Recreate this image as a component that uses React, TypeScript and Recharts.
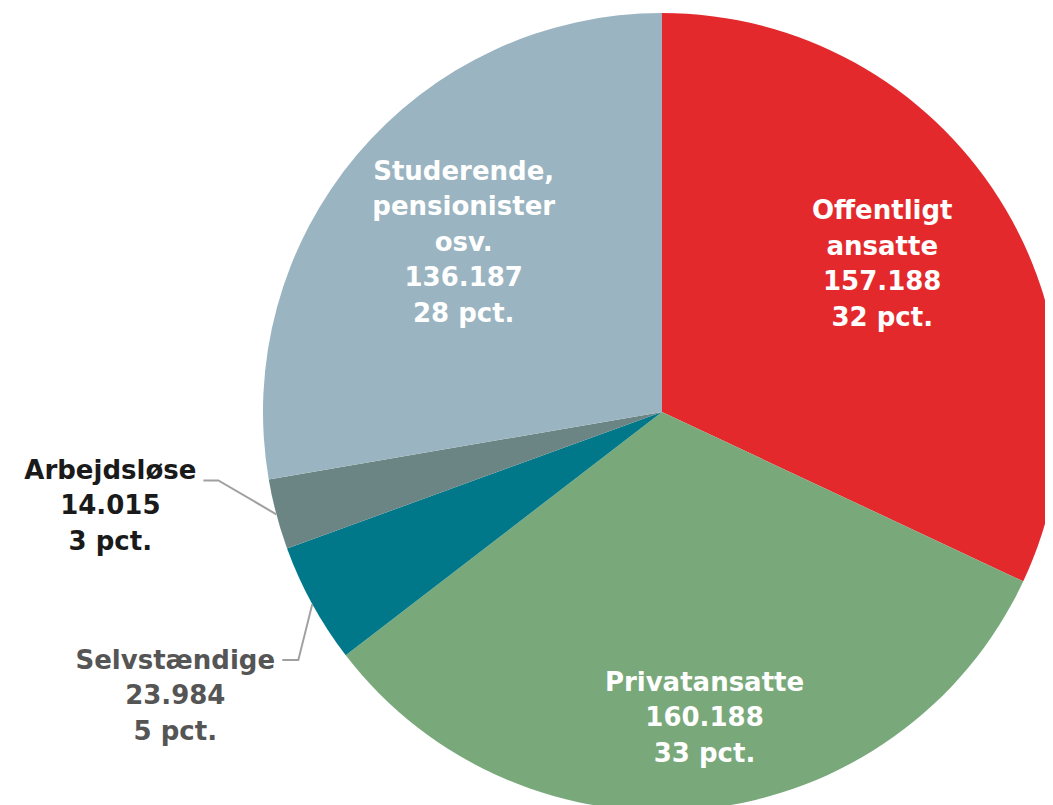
import { PieChart, Pie, Cell } from "recharts"

const names = [
  ["Offentligt", "ansatte"],
  ["Privatansatte"],
  ["Selvstændige"],
  ["Arbejdsløse"],
  ["Studerende,", "pensionister", "osv."],
]
const values = [157188, 160188, 23984, 14015, 136187]
const colors = ["#E4292D", "#79A97B", "#00788A", "#6B8584", "#9AB4C1"]

const data = names.map((lines, i) => ({ name: lines.join(" "), lines, value: values[i] }))

// label placement per slice: inside labels use a radius factor (+ nudge), outside ones a leader line
const labelStyle = [
  { inside: true, r: 0.66, nudge: [-2, -7], fill: "#fff" },
  { inside: true, r: 0.775, nudge: [9, -2], fill: "#fff" },
  { inside: false, elbow: [-14, 56], end: [-30, 56], text: [-137, 91], fill: "#555555" },
  { inside: false, elbow: [-58, -34], end: [-73, -34], text: [-166, -9], fill: "#1a1a1a" },
  { inside: true, r: 0.65, nudge: [0, -3], fill: "#fff" },
]

const fmt = (v: number) => String(v).replace(/\B(?=(\d{3})+(?!\d))/g, ".")

const LINE_H = 35.5
const FONT = 26

const renderLabel = (props: any) => {
  const { cx, cy, midAngle, outerRadius, index, percent, payload } = props
  const st = labelStyle[index]
  const rad = Math.PI / 180
  const lines: string[] = [...payload.lines, fmt(payload.value), `${Math.round(percent * 100)} pct.`]
  let tx: number
  let ty: number
  let leader = null
  if (st.inside) {
    tx = cx + outerRadius * st.r! * Math.cos(-midAngle * rad) + st.nudge![0]
    ty = cy + outerRadius * st.r! * Math.sin(-midAngle * rad) + st.nudge![1]
  } else {
    const ex = cx + outerRadius * Math.cos(-midAngle * rad)
    const ey = cy + outerRadius * Math.sin(-midAngle * rad)
    const pts = [
      [ex, ey],
      [ex + st.elbow![0], ey + st.elbow![1]],
      [ex + st.end![0], ey + st.end![1]],
    ]
    leader = (
      <polyline
        points={pts.map((p) => p.join(",")).join(" ")}
        fill="none"
        stroke="#A0A0A0"
        strokeWidth={2}
      />
    )
    tx = ex + st.text![0]
    ty = ey + st.text![1]
  }
  const top = ty - ((lines.length - 1) * LINE_H) / 2
  return (
    <g key={`lbl-${index}`}>
      {leader}
      <text
        x={tx}
        y={top}
        fill={st.fill}
        textAnchor="middle"
        dominantBaseline="central"
        fontFamily="'DejaVu Sans', Verdana, sans-serif"
        fontWeight="bold"
        fontSize={FONT}
      >
        {lines.map((l, i) => (
          <tspan key={i} x={tx} y={top + i * LINE_H}>
            {l}
          </tspan>
        ))}
      </text>
    </g>
  )
}

export default function App() {
  return (
    <div style={{ width: 1045, height: 797, overflow: "hidden" }}>
      <PieChart width={1045} height={797} margin={{ top: 0, right: 0, bottom: 0, left: 0 }}>
        <Pie
          data={data}
          dataKey="value"
          nameKey="name"
          cx={654}
          cy={404}
          outerRadius={399}
          startAngle={90}
          endAngle={-270}
          stroke="none"
          label={renderLabel}
          labelLine={false}
          isAnimationActive={false}
        >
          {data.map((d, i) => (
            <Cell key={d.name} fill={colors[i]} />
          ))}
        </Pie>
      </PieChart>
    </div>
  )
}
